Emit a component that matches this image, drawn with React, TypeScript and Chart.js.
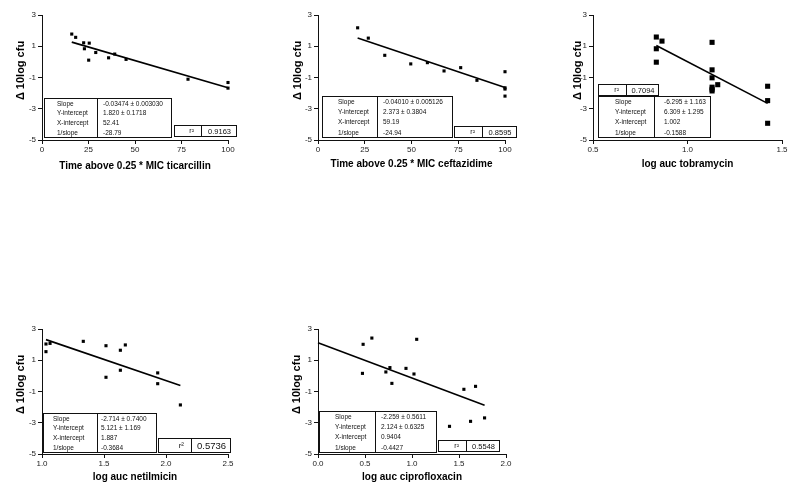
import React, { useEffect, useRef } from "react";
import { Chart, registerables } from "chart.js";

Chart.register(...registerables);

// ---------- data ----------
const yTitle = "Δ 10log cfu";
const yTicks = [3, 1, -1, -3, -5];
const tableLabels = ["Slope", "Y-intercept", "X-intercept", "1/slope"];

// Panel 1: ticarcillin
const ticTitle = "Time above 0.25 * MIC ticarcillin";
const ticX = [16, 18.1, 22.4, 22.8, 25.4, 25.1, 28.9, 39.1, 35.8, 45.2, 78.5, 100, 100];
const ticY = [1.78, 1.57, 1.22, 0.84, 1.2, 0.11, 0.6, 0.5, 0.26, 0.16, -1.11, -1.32, -1.68];
const ticFit = [-0.03474, 1.82, 16, 100]; // slope, intercept, line from x, line to x
const ticStats = ["-0.03474 ± 0.003030", "1.820 ± 0.1718", "52.41", "-28.79"];
const ticR2 = "0.9163";
const ticXTicks = [0, 25, 50, 75, 100];

// Panel 2: ceftazidime
const cefTitle = "Time above 0.25 * MIC ceftazidime";
const cefX = [21.2, 26.9, 35.7, 49.6, 58.5, 67.4, 76.3, 85.0, 100, 100, 100, 100];
const cefY = [2.18, 1.52, 0.42, -0.13, -0.05, -0.58, -0.37, -1.18, -0.63, -1.66, -1.74, -2.19];
const cefFit = [-0.0401, 2.373, 21.2, 100];
const cefStats = ["-0.04010 ± 0.005126", "2.373 ± 0.3804", "59.19", "-24.94"];
const cefR2 = "0.8595";
const cefXTicks = [0, 25, 50, 75, 100];

// Panel 3: tobramycin
const tobTitle = "log auc tobramycin";
const tobX = [0.835, 0.865, 0.835, 0.835, 1.13, 1.13, 1.13, 1.13, 1.13, 1.13, 1.16, 1.424, 1.424, 1.424];
const tobY = [1.59, 1.33, 0.84, -0.02, 1.25, -0.51, -1.02, -1.62, -1.75, -1.86, -1.46, -1.56, -2.48, -3.93];
const tobFit = [-6.295, 6.309, 0.835, 1.424];
const tobStats = ["-6.295 ± 1.163", "6.309 ± 1.295", "1.002", "-0.1588"];
const tobR2 = "0.7094";
const tobXTicks = [0.5, 1.0, 1.5];

// Panel 4: netilmicin
const netTitle = "log auc netilmicin";
const netX = [1.032, 1.032, 1.065, 1.333, 1.516, 1.516, 1.632, 1.632, 1.672, 1.933, 1.933, 2.116];
const netY = [2.04, 1.55, 2.08, 2.21, 1.93, -0.09, 1.64, 0.36, 1.98, 0.19, -0.5, -1.86];
const netFit = [-2.714, 5.121, 1.032, 2.116];
const netStats = ["-2.714 ± 0.7400", "5.121 ± 1.169", "1.887", "-0.3684"];
const netR2 = "0.5736";
const netXTicks = [1.0, 1.5, 2.0, 2.5];

// Panel 5: ciprofloxacin
const cipTitle = "log auc ciprofloxacin";
const cipX = [0.48, 0.573, 0.473, 0.722, 0.765, 0.786, 0.936, 1.021, 1.05, 1.399, 1.552, 1.623, 1.676, 1.772];
const cipY = [2.02, 2.42, 0.16, 0.25, 0.53, -0.48, 0.48, 0.12, 2.34, -3.23, -0.86, -2.91, -0.67, -2.69];
const cipFit = [-2.259, 2.124, 0, 1.772];
const cipStats = ["-2.259 ± 0.5611", "2.124 ± 0.6325", "0.9404", "-0.4427"];
const cipR2 = "0.5548";
const cipXTicks = [0.0, 0.5, 1.0, 1.5, 2.0];

// ---------- layout ----------
const FONT = "'Liberation Sans', Arial, Helvetica, sans-serif";

type Box = { x0: number; y0: number; x1: number; y1: number; div: number };
type Panel = {
  key: string;
  pos: { left: number; top: number; w: number; h: number };
  area: { l: number; t: number; r: number; b: number };
  xTitle: string;
  xTicks: number[];
  decimals: number;
  xs: number[];
  ys: number[];
  fit: number[];
  stats: string[];
  r2: string;
  pointRadius: number;
  table: Box & { li: number; vi: number };
  r2box: Box & { font: number; labelFont: number };
  yTitleDx: number;
  xTitlePad: number;
};

const panels: Panel[] = [
  {
    key: "tic",
    pos: { left: 0, top: 0, w: 265, h: 180 },
    area: { l: 42, t: 15, r: 228, b: 140 },
    xTitle: ticTitle, xTicks: ticXTicks, decimals: 0,
    xs: ticX, ys: ticY, fit: ticFit, stats: ticStats, r2: ticR2,
    pointRadius: 2.2,
    table: { x0: 44, y0: 98, x1: 171, y1: 137, div: 97, li: 13, vi: 6 },
    r2box: { x0: 174, y0: 125, x1: 236, y1: 136, div: 201, font: 7.5, labelFont: 7 },
    yTitleDx: -21, xTitlePad: 3,
  },
  {
    key: "cef",
    pos: { left: 276, top: 0, w: 265, h: 180 },
    area: { l: 42, t: 15, r: 229, b: 140 },
    xTitle: cefTitle, xTicks: cefXTicks, decimals: 0,
    xs: cefX, ys: cefY, fit: cefFit, stats: cefStats, r2: cefR2,
    pointRadius: 2.2,
    table: { x0: 46, y0: 96, x1: 176, y1: 137, div: 101, li: 16, vi: 6 },
    r2box: { x0: 178, y0: 126, x1: 240, y1: 137, div: 206, font: 7.5, labelFont: 7 },
    yTitleDx: -20, xTitlePad: 4.5,
  },
  {
    key: "tob",
    pos: { left: 551, top: 0, w: 249, h: 180 },
    area: { l: 42, t: 15, r: 231, b: 140 },
    xTitle: tobTitle, xTicks: tobXTicks, decimals: 1,
    xs: tobX, ys: tobY, fit: tobFit, stats: tobStats, r2: tobR2,
    pointRadius: 3.6,
    table: { x0: 47, y0: 96, x1: 159, y1: 137, div: 103, li: 17, vi: 10 },
    r2box: { x0: 47, y0: 84, x1: 107, y1: 95, div: 75, font: 7.5, labelFont: 7 },
    yTitleDx: -15, xTitlePad: 5,
  },
  {
    key: "net",
    pos: { left: 0, top: 314, w: 265, h: 182 },
    area: { l: 42, t: 15, r: 228, b: 140 },
    xTitle: netTitle, xTicks: netXTicks, decimals: 1,
    xs: netX, ys: netY, fit: netFit, stats: netStats, r2: netR2,
    pointRadius: 2.2,
    table: { x0: 43, y0: 99, x1: 156, y1: 138, div: 97, li: 10, vi: 4 },
    r2box: { x0: 158, y0: 124, x1: 230, y1: 138, div: 191, font: 9.5, labelFont: 8 },
    yTitleDx: -21, xTitlePad: 5.5,
  },
  {
    key: "cip",
    pos: { left: 276, top: 314, w: 265, h: 182 },
    area: { l: 42, t: 15, r: 230, b: 140 },
    xTitle: cipTitle, xTicks: cipXTicks, decimals: 1,
    xs: cipX, ys: cipY, fit: cipFit, stats: cipStats, r2: cipR2,
    pointRadius: 2.2,
    table: { x0: 43, y0: 97, x1: 160, y1: 138, div: 99, li: 16, vi: 6 },
    r2box: { x0: 162, y0: 126, x1: 223, y1: 137, div: 190, font: 7.5, labelFont: 7 },
    yTitleDx: -21, xTitlePad: 5.5,
  },
];

const X_AXIS_H = 35;

function makeDecor(p: Panel) {
  return {
    id: "decor_" + p.key,
    afterDraw(chart: any) {
      const ctx: CanvasRenderingContext2D = chart.ctx;
      const ca = chart.chartArea;
      ctx.save();
      // y axis title
      ctx.save();
      ctx.translate(ca.left + p.yTitleDx, (ca.top + ca.bottom) / 2 - 7);
      ctx.rotate(-Math.PI / 2);
      ctx.font = `bold 11px ${FONT}`;
      ctx.fillStyle = "#000";
      ctx.textAlign = "center";
      ctx.textBaseline = "middle";
      ctx.fillText(yTitle, 0, 0);
      ctx.restore();

      const box = (b: Box) => {
        const w = b.x1 - b.x0;
        const h = b.y1 - b.y0;
        ctx.fillStyle = "#fff";
        ctx.fillRect(b.x0, b.y0, w, h);
        ctx.strokeStyle = "#111";
        ctx.lineWidth = 1;
        ctx.strokeRect(b.x0 + 0.5, b.y0 + 0.5, w, h);
        ctx.beginPath();
        ctx.moveTo(b.div + 0.5, b.y0 + 0.5);
        ctx.lineTo(b.div + 0.5, b.y1 + 0.5);
        ctx.stroke();
      };

      // stats table
      const t = p.table;
      box(t);
      const rh = (t.y1 - t.y0) / tableLabels.length;
      ctx.font = `6.5px ${FONT}`;
      ctx.fillStyle = "#111";
      ctx.textBaseline = "middle";
      ctx.textAlign = "left";
      tableLabels.forEach((lab, i) => {
        const y = t.y0 + rh * (i + 0.5) + 1;
        ctx.fillText(lab, t.x0 + t.li, y);
        ctx.fillText(p.stats[i], t.div + t.vi, y);
      });

      // r² box
      const r = p.r2box;
      box(r);
      ctx.fillStyle = "#111";
      ctx.textBaseline = "middle";
      const ry = (r.y0 + r.y1) / 2 + 1;
      ctx.font = `${r.labelFont}px ${FONT}`;
      ctx.textAlign = "right";
      ctx.fillText("r²", r.div - 7, ry);
      ctx.font = `${r.font}px ${FONT}`;
      ctx.textAlign = "center";
      ctx.fillText(p.r2, (r.div + r.x1) / 2 + 1, ry);
      ctx.restore();
    },
  };
}

function PanelChart({ p }: { p: Panel }) {
  const ref = useRef<HTMLCanvasElement | null>(null);
  useEffect(() => {
    if (!ref.current) return;
    const [slope, intercept, from, to] = p.fit;
    const pts = p.xs.map((x, i) => ({ x, y: p.ys[i] }));
    const line = [
      { x: from, y: intercept + slope * from },
      { x: to, y: intercept + slope * to },
    ];
    const xMin = p.xTicks[0];
    const xMax = p.xTicks[p.xTicks.length - 1];
    const xStep = p.xTicks[1] - p.xTicks[0];
    const chart = new Chart(ref.current, {
      type: "scatter",
      data: {
        datasets: [
          {
            data: pts,
            pointStyle: "rect",
            pointRadius: p.pointRadius,
            pointBorderWidth: 0,
            pointBackgroundColor: "#000",
            backgroundColor: "#000",
            borderWidth: 0,
            showLine: false,
            clip: false as any,
          },
          {
            data: line,
            showLine: true,
            borderColor: "#000",
            borderWidth: 1.6,
            pointRadius: 0,
            clip: false as any,
          },
        ],
      },
      options: {
        responsive: false,
        animation: false,
        devicePixelRatio: 1,
        layout: {
          padding: {
            left: 0,
            top: p.area.t,
            right: p.pos.w - p.area.r,
            bottom: p.pos.h - p.area.b - X_AXIS_H,
          },
        },
        plugins: {
          legend: { display: false },
          tooltip: { enabled: false },
          title: { display: false },
        },
        scales: {
          x: {
            type: "linear",
            min: xMin,
            max: xMax,
            afterFit: (s: any) => {
              s.height = X_AXIS_H;
            },
            afterBuildTicks: (s: any) => {
              s.ticks = p.xTicks.map((v) => ({ value: v }));
            },
            ticks: {
              stepSize: xStep,
              padding: 1,
              color: "#222",
              font: { size: 8, family: FONT },
              maxRotation: 0,
              callback: (v: any) => Number(v).toFixed(p.decimals),
            },
            grid: {
              display: true,
              drawOnChartArea: false,
              drawTicks: true,
              tickLength: 4,
              color: "#111",
            },
            border: { display: true, color: "#111", width: 1 },
            title: {
              display: true,
              text: p.xTitle,
              color: "#000",
              font: { size: 10, weight: "bold", family: FONT },
              padding: { top: 0, bottom: p.xTitlePad },
            },
          },
          y: {
            type: "linear",
            min: -5,
            max: 3,
            afterFit: (s: any) => {
              s.width = p.area.l;
            },
            afterBuildTicks: (s: any) => {
              s.ticks = yTicks.map((v) => ({ value: v }));
            },
            ticks: {
              stepSize: 2,
              padding: 2,
              color: "#222",
              font: { size: 8, family: FONT },
              callback: (v: any) => String(v),
            },
            grid: {
              display: true,
              drawOnChartArea: false,
              drawTicks: true,
              tickLength: 4,
              color: "#111",
            },
            border: { display: true, color: "#111", width: 1 },
            title: { display: false },
          },
        },
      } as any,
      plugins: [makeDecor(p)],
    });
    return () => chart.destroy();
  }, [p]);
  return (
    <canvas
      ref={ref}
      width={p.pos.w}
      height={p.pos.h}
      style={{
        position: "absolute",
        left: p.pos.left,
        top: p.pos.top,
        width: p.pos.w,
        height: p.pos.h,
      }}
    />
  );
}

export default function App() {
  return (
    <div
      style={{
        position: "fixed",
        left: 0,
        top: 0,
        width: 800,
        height: 496,
        background: "#fff",
        overflow: "hidden",
      }}
    >
      {panels.map((p) => (
        <PanelChart key={p.key} p={p} />
      ))}
    </div>
  );
}
